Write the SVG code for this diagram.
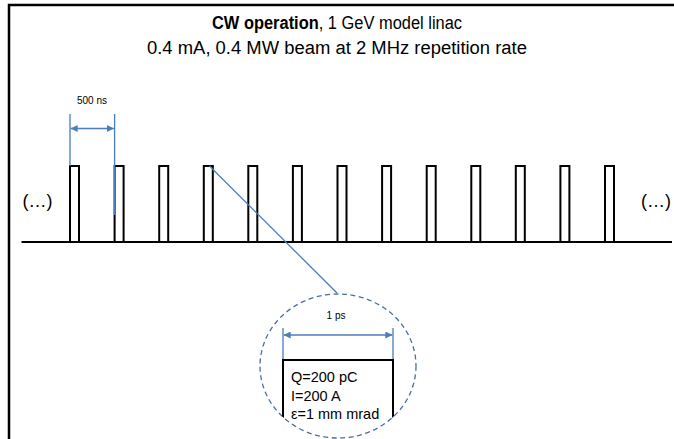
<svg xmlns="http://www.w3.org/2000/svg" width="674" height="439" viewBox="0 0 674 439">
<defs>
<style>
.t{font-family:"Liberation Sans",Arial,sans-serif;fill:#000}
.pulse{fill:none;stroke:#000;stroke-width:2}
.dim{stroke:#4a7ebb;stroke-width:1.3;fill:none}
</style>
<marker id="ah" viewBox="0 0 10 10" refX="10" refY="5" markerWidth="7" markerHeight="7" orient="auto-start-reverse" markerUnits="userSpaceOnUse">
<path d="M0,0 L10,5 L0,10 z" fill="#4a7ebb"/>
</marker>
<clipPath id="circ"><ellipse cx="338" cy="366" rx="78" ry="72"/></clipPath>
</defs>
<rect width="674" height="439" fill="#fff"/>
<path d="M9,439 V5 H674" fill="none" stroke="#000" stroke-width="2.5"/>
<g id="title">
<text class="t" x="337" y="29" font-size="18" text-anchor="middle" textLength="250" lengthAdjust="spacingAndGlyphs"><tspan font-weight="bold">CW operation</tspan>, 1 GeV model linac</text>
<text class="t" x="337" y="54" font-size="18" text-anchor="middle" textLength="380" lengthAdjust="spacingAndGlyphs">0.4 mA, 0.4 MW beam at 2 MHz repetition rate</text>
</g>
<g id="pulses">
<path class="pulse" d="M21.5,242 H672"/>
<path class="pulse" d="M70,242 V166 H79 V242 M114.6,242 V166 H123.6 V242 M159.2,242 V166 H168.2 V242 M203.8,242 V166 H212.8 V242 M248.3,242 V166 H257.3 V242 M292.9,242 V166 H301.9 V242 M337.5,242 V166 H346.5 V242 M382.1,242 V166 H391.1 V242 M426.7,242 V166 H435.7 V242 M471.3,242 V166 H480.3 V242 M515.8,242 V166 H524.8 V242 M560.4,242 V166 H569.4 V242 M605,242 V166 H614 V242"/>
</g>
<g id="ellipsis-left"><text class="t" x="37.5" y="206.5" font-size="18" text-anchor="middle">(…)</text></g>
<g id="ellipsis-right"><text class="t" x="656" y="206.5" font-size="18" text-anchor="middle">(…)</text></g>
<g id="dim-500ns">
<path class="dim" d="M70,114 V166 M114.6,114 V215"/>
<path class="dim" d="M70.7,128.5 H113.9" marker-start="url(#ah)" marker-end="url(#ah)"/>
<text class="t" x="92" y="104" font-size="10" text-anchor="middle">500 ns</text>
</g>
<g id="connectors">
<path class="dim" d="M209.5,166 L337,293"/>
</g>
<g id="zoom-circle">
<ellipse cx="338" cy="366" rx="78" ry="72" fill="none" stroke="#4a6fa0" stroke-width="1.3" stroke-dasharray="5,3.5"/>
<path class="dim" d="M283,328 V360 M393,328 V360"/>
<path class="dim" d="M283.7,335 H392.3" marker-start="url(#ah)" marker-end="url(#ah)"/>
<text class="t" x="336" y="319" font-size="10" text-anchor="middle">1 ps</text>
<path d="M283,440 V360 H393 V440" fill="none" stroke="#000" stroke-width="2" clip-path="url(#circ)"/>
<text class="t" x="291" y="382" font-size="14.5">Q=200 pC</text>
<text class="t" x="291" y="400.5" font-size="14.5">I=200 A</text>
<text class="t" x="291" y="419" font-size="14.5">ε=1 mm mrad</text>
</g>
</svg>
